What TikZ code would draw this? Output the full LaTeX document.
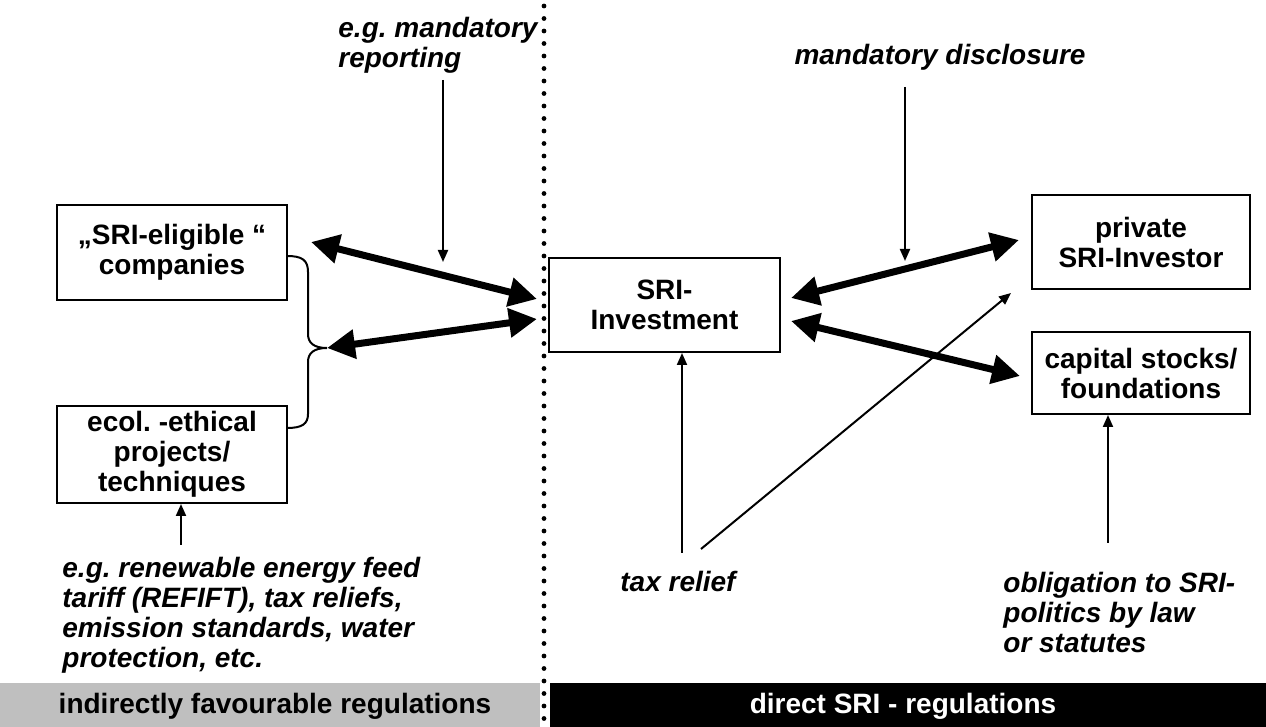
\documentclass[tikz,border=0pt]{standalone}
\usepackage{fontspec}
\setmainfont{Liberation Sans}
\usetikzlibrary{arrows.meta}
\definecolor{bargray}{RGB}{191,191,191}
\frenchspacing
\begin{document}
\begin{tikzpicture}[x=0.5pt,y=-0.5pt,
  txt/.style={font=\fontsize{14}{15}\selectfont\bfseries},
  box/.style={txt, draw, line width=1pt, inner sep=0pt, align=center},
  note/.style={font=\fontsize{14}{15}\selectfont\bfseries\itshape, inner sep=0pt, align=left},
  thinarrow/.style={line width=1pt, -{Triangle[length=6pt,width=5pt]}},
  thickarrow/.style={line width=3.5pt,
    {Triangle[length=14pt,width=14pt]}-{Triangle[length=14pt,width=14pt]}},
  dotline/.style={line width=2.4pt, line cap=round, dash pattern=on 0pt off 6.25pt},
]
\useasboundingbox (0,0) rectangle (1266,727);

% bottom bars
\fill[bargray] (0,683) rectangle (540,727);
\fill[black] (550,683) rectangle (1266,727);
\node[txt, anchor=base, inner sep=0pt] (indir) at (275,713) {indirectly favourable regulations};
\node[txt, anchor=base, inner sep=0pt, text=white] (direct) at (903,713) {direct SRI - regulations};

% boxes
\node[box, minimum width=115pt, minimum height=47.5pt] (comp) at (172,252.5) {„SRI-eligible “\\companies};
\node[box, minimum width=115pt, minimum height=48.5pt] (ecol) at (172,454.5) {ecol. -ethical\\projects/\\techniques};
\node[box, minimum width=115.5pt, minimum height=47pt] (inv) at (664.5,305) {SRI-\\Investment};
\node[box, minimum width=109pt, minimum height=47pt] (priv) at (1141,242) {private\\SRI-Investor};
\node[box, minimum width=109pt, minimum height=41pt] (cap) at (1141,373) {capital stocks/\\foundations};

% labels
\node[note, anchor=north west] (rep) at (338,16.6) {e.g. mandatory\\reporting};
\node[note, anchor=base] (disc) at (940,65) {mandatory disclosure};
\node[note, anchor=base] (tax) at (678,592) {tax relief};
\node[note, anchor=north west] (oblig) at (1003,571.6) {obligation to SRI-\\politics by law\\or statutes};
\node[note, anchor=north west] (renew) at (62,556.6) {e.g. renewable energy feed\\tariff (REFIFT), tax reliefs,\\emission standards, water\\protection, etc.};

% free ends of the thin arrows
\coordinate (repTail) at (443,80);
\coordinate (repTip) at (443,262);
\coordinate (discTail) at (905,87);
\coordinate (discTip) at (905,261);
\coordinate (taxUp) at (682,553);
\coordinate (taxDiag) at (701,549);
\coordinate (diagTip) at (1011,293);
\coordinate (capTail) at (1108,543);
\coordinate (ecolTail) at (181,545);
\coordinate (bt) at (327,348);

% brace joining the two left boxes
\draw[line width=1pt] (287,256) .. controls (302,256) and (308,260) .. (308,272)
  -- (308,334) .. controls (308,343) and (314,348) .. (bt)
  .. controls (314,348) and (308,353) .. (308,362)
  -- (308,414) .. controls (308,424) and (302,428) .. (287,428);

% thick two-way arrows
\draw[thickarrow] ([shift={(23,38)}]comp.north east) -- ([shift={(-11,42)}]inv.north west);
\draw[thickarrow] (bt) -- ([shift={(-11,62)}]inv.north west);
\draw[thickarrow] ([shift={(10,41)}]inv.north east) -- ([shift={(-12,46)}]priv.north west);
\draw[thickarrow] ([shift={(10,64)}]inv.north east) -- ([shift={(-11,45)}]cap.north west);

% thin arrows
\draw[thinarrow] (repTail) -- (repTip);
\draw[thinarrow] (discTail) -- (discTip);
\draw[thinarrow] (taxUp) -- (taxUp |- inv.south);
\draw[thinarrow] (taxDiag) -- (diagTip);
\draw[thinarrow] (capTail) -- (capTail |- cap.south);
\draw[thinarrow] (ecolTail) -- (ecolTail |- ecol.south);

% dotted separator
\coordinate (sepTop) at (544,6);
\coordinate (sepBot) at (544,727);
\draw[dotline] (sepTop) -- (sepBot);
\end{tikzpicture}
\end{document}
